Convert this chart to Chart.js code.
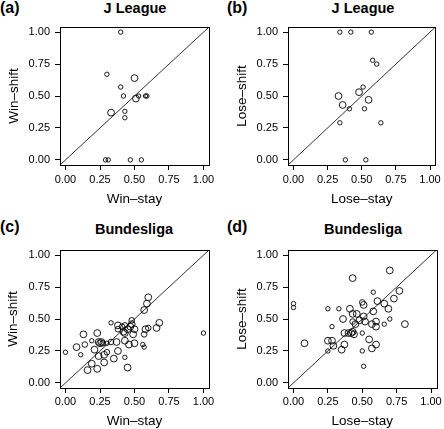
<!DOCTYPE html>
<html lang="en">
<head>
<meta charset="UTF-8">
<title>Win-stay / lose-shift</title>
<script src="https://cdn.jsdelivr.net/npm/chart.js@4.4.1/dist/chart.umd.min.js"></script>
<style>
body {margin:0; background:#fff; font-family:"Liberation Sans", Arial, sans-serif;}
#wrap {position:relative; width:444px; height:429px; overflow:hidden;}
canvas {position:absolute;}
.tag {position:absolute; font-weight:bold; font-size:16px; line-height:18px; color:#000;}
.ttl {position:absolute; font-weight:bold; font-size:14.5px; line-height:16px; color:#000; width:160px; text-align:center;}
</style>
</head>
<body>
<div id="wrap">
  <div class="tag" style="left:0px;top:-1px">(a)</div>
  <div class="ttl" style="left:55px;top:0px">J League</div>
  <div class="tag" style="left:227px;top:-1px">(b)</div>
  <div class="ttl" style="left:283px;top:0px">J League</div>
  <div class="tag" style="left:0px;top:218px">(c)</div>
  <div class="ttl" style="left:54px;top:221px">Bundesliga</div>
  <div class="tag" style="left:227px;top:218px">(d)</div>
  <div class="ttl" style="left:283px;top:221px">Bundesliga</div>

  <canvas id="chartA" width="222" height="215" style="left:0;top:0"></canvas>
  <canvas id="chartB" width="222" height="215" style="left:222px;top:0"></canvas>
  <canvas id="chartC" width="222" height="214" style="left:0;top:215px"></canvas>
  <canvas id="chartD" width="222" height="214" style="left:222px;top:215px"></canvas>
</div>

<script>
// axis settings shared by all four panels
var axisMin = -0.04;
var axisMax = 1.04;
var tickVals = [0, 0.25, 0.5, 0.75, 1];

// (a) J League, win-stay vs win-shift ; n = relative sample size (1 small .. 3 large)
var jWinStay  = [0.40, 0.30, 0.50, 0.40, 0.42, 0.53, 0.58, 0.59, 0.51, 0.33, 0.43, 0.43, 0.29, 0.31, 0.47, 0.55];
var jWinShift = [1.00, 0.67, 0.64, 0.57, 0.50, 0.50, 0.50, 0.50, 0.48, 0.37, 0.38, 0.33, 0.00, 0.00, 0.00, 0.00];
var jWinN     = [1, 1, 3, 1, 1, 1, 1, 1, 3, 3, 1, 1, 1, 1, 1, 1];

// (b) J League, lose-stay vs lose-shift
var jLoseStay  = [0.34, 0.42, 0.57, 0.58, 0.61, 0.51, 0.48, 0.33, 0.55, 0.36, 0.41, 0.52, 0.34, 0.64, 0.38, 0.53];
var jLoseShift = [1.00, 1.00, 1.00, 0.78, 0.75, 0.57, 0.53, 0.50, 0.47, 0.43, 0.40, 0.40, 0.29, 0.29, 0.00, 0.00];
var jLoseN     = [1, 1, 1, 1, 1, 1, 3, 3, 3, 3, 1, 1, 1, 1, 1, 1];

// (c) Bundesliga, win-stay vs win-shift
var bWinStay  = [0.00, 0.11, 0.08, 0.14, 0.13, 0.19, 0.23, 0.24, 0.25, 0.26, 0.27, 0.30, 0.21, 0.24, 0.28, 0.30,
                 0.19, 0.16, 0.23, 0.28, 0.35, 0.38, 0.33, 0.37, 0.33, 0.38, 0.38, 0.41, 0.43, 0.43, 0.42, 0.45,
                 0.47, 0.48, 0.48, 0.50, 0.49, 0.43, 0.46, 0.50, 0.43, 0.45, 0.56, 0.57, 0.57, 0.58, 0.60, 0.57,
                 0.59, 0.60, 0.66, 0.68, 1.00];
var bWinShift = [0.24, 0.22, 0.28, 0.30, 0.38, 0.33, 0.39, 0.32, 0.31, 0.32, 0.31, 0.31, 0.26, 0.21, 0.22, 0.24,
                 0.15, 0.10, 0.11, 0.16, 0.19, 0.25, 0.32, 0.32, 0.47, 0.45, 0.42, 0.44, 0.45, 0.39, 0.40, 0.42,
                 0.44, 0.46, 0.49, 0.42, 0.38, 0.33, 0.30, 0.31, 0.20, 0.12, 0.30, 0.28, 0.38, 0.42, 0.43, 0.57,
                 0.62, 0.67, 0.43, 0.47, 0.39];
var bWinN     = [1, 1, 3, 2, 3, 1, 3, 3, 3, 3, 2, 1, 3, 3, 3, 2,
                 3, 3, 3, 3, 3, 3, 2, 3, 1, 3, 2, 2, 2, 3, 3, 3,
                 3, 3, 2, 3, 3, 3, 3, 3, 1, 3, 1, 1, 2, 3, 2, 3,
                 3, 3, 3, 3, 1];

// (d) Bundesliga, lose-stay vs lose-shift
var bLoseStay  = [0.00, 0.00, 0.08, 0.25, 0.25, 0.25, 0.28, 0.28, 0.29, 0.33, 0.35, 0.37, 0.36, 0.37, 0.41, 0.40,
                  0.42, 0.43, 0.44, 0.43, 0.43, 0.46, 0.45, 0.48, 0.43, 0.50, 0.50, 0.51, 0.51, 0.52, 0.50, 0.51,
                  0.55, 0.57, 0.58, 0.58, 0.57, 0.60, 0.60, 0.60, 0.61, 0.66, 0.66, 0.69, 0.70, 0.70, 0.73, 0.77,
                  0.81];
var bLoseShift = [0.62, 0.59, 0.31, 0.33, 0.25, 0.58, 0.44, 0.33, 0.29, 0.58, 0.26, 0.30, 0.50, 0.39, 0.58, 0.39,
                  0.39, 0.40, 0.38, 0.82, 0.54, 0.54, 0.46, 0.49, 0.48, 0.39, 0.63, 0.61, 0.52, 0.48, 0.25, 0.13,
                  0.34, 0.27, 0.56, 0.71, 0.46, 0.48, 0.44, 0.30, 0.64, 0.62, 0.46, 0.58, 0.50, 0.88, 0.66, 0.72,
                  0.46];
var bLoseN     = [1, 1, 3, 3, 1, 1, 1, 3, 3, 1, 3, 3, 3, 3, 3, 3,
                  3, 3, 3, 3, 3, 3, 3, 3, 2, 1, 2, 3, 3, 3, 1, 1,
                  3, 3, 3, 1, 3, 3, 3, 3, 3, 3, 1, 3, 1, 3, 3, 3,
                  3];

Chart.defaults.font.family = '"Liberation Sans", Arial, sans-serif';
Chart.defaults.color = '#000';

function radiusFor(n) {
  return n == 3 ? 3.4 : (n == 2 ? 2.8 : 2.2);
}

// full frame round the plot region, like R's box()
var boxPlugin = {
  id: 'frame',
  afterDatasetsDraw: function(chart) {
    var a = chart.chartArea, ctx = chart.ctx;
    ctx.save();
    ctx.strokeStyle = '#000';
    ctx.lineWidth = 1;
    ctx.strokeRect(Math.round(a.left) + 0.5, Math.round(a.top) + 0.5,
                   Math.round(a.right - a.left), Math.round(a.bottom - a.top));
    ctx.restore();
  }
};

function makePanel(id, xs, ys, ns, xTitle, yTitle, lay) {
  var pts = xs.map(function(x, i) { return {x: x, y: ys[i]}; });
  var axisFont = {size: 11};
  var titleFont = {size: 13.5};
  new Chart(id, {
    type: 'scatter',
    data: {
      datasets: [
        {
          data: pts,
          pointRadius: ns.map(radiusFor),
          pointBorderColor: '#000',
          pointBackgroundColor: 'rgba(0,0,0,0)',
          pointBorderWidth: 0.9
        },
        {
          data: [{x: axisMin, y: axisMin}, {x: axisMax, y: axisMax}],
          showLine: true,
          pointRadius: 0,
          borderColor: '#333',
          borderWidth: 1
        }
      ]
    },
    options: {
      responsive: false,
      animation: false,
      events: [],
      layout: {padding: {left: 0, top: lay.top, right: lay.right, bottom: 0}},
      plugins: {legend: {display: false}, tooltip: {enabled: false}},
      scales: {
        x: {
          type: 'linear', min: axisMin, max: axisMax,
          afterFit: function(s) { s.height = lay.xh; },
          afterBuildTicks: function(s) { s.ticks = tickVals.map(function(v) { return {value: v}; }); },
          ticks: {callback: function(v) { return v.toFixed(2); }, font: axisFont, padding: lay.xtp, maxRotation: 0, autoSkip: false},
          grid: {drawOnChartArea: false, tickLength: 5, color: '#000'},
          border: {color: '#000'},
          title: {display: true, text: xTitle, font: titleFont, padding: {top: 0, bottom: lay.xtb}}
        },
        y: {
          type: 'linear', min: axisMin, max: axisMax,
          afterFit: function(s) { s.width = lay.yw; },
          afterBuildTicks: function(s) { s.ticks = tickVals.map(function(v) { return {value: v}; }); },
          ticks: {callback: function(v) { return v.toFixed(2); }, font: axisFont, padding: 5, autoSkip: false},
          grid: {drawOnChartArea: false, tickLength: 5, color: '#000'},
          border: {color: '#000'},
          title: {display: true, text: yTitle, font: titleFont, padding: {top: lay.ytp, bottom: 0}}
        }
      }
    },
    plugins: [boxPlugin]
  });
}

makePanel('chartA', jWinStay, jWinShift, jWinN, 'Win\u2013stay', 'Win\u2013shift', {top: 27, right: 13, xh: 50, yw: 60, ytp: 6, xtp: 3, xtb: 8});
makePanel('chartB', jLoseStay, jLoseShift, jLoseN, 'Lose\u2013stay', 'Lose\u2013shift', {top: 27, right: 7, xh: 50, yw: 66, ytp: 12, xtp: 3, xtb: 8});
makePanel('chartC', bWinStay, bWinShift, bWinN, 'Win\u2013stay', 'Win\u2013shift', {top: 35, right: 13, xh: 41, yw: 60, ytp: 5, xtp: 2, xtb: 0});
makePanel('chartD', bLoseStay, bLoseShift, bLoseN, 'Lose\u2013stay', 'Lose\u2013shift', {top: 35, right: 7, xh: 41, yw: 66, ytp: 12, xtp: 2, xtb: 0});
</script>
</body>
</html>
